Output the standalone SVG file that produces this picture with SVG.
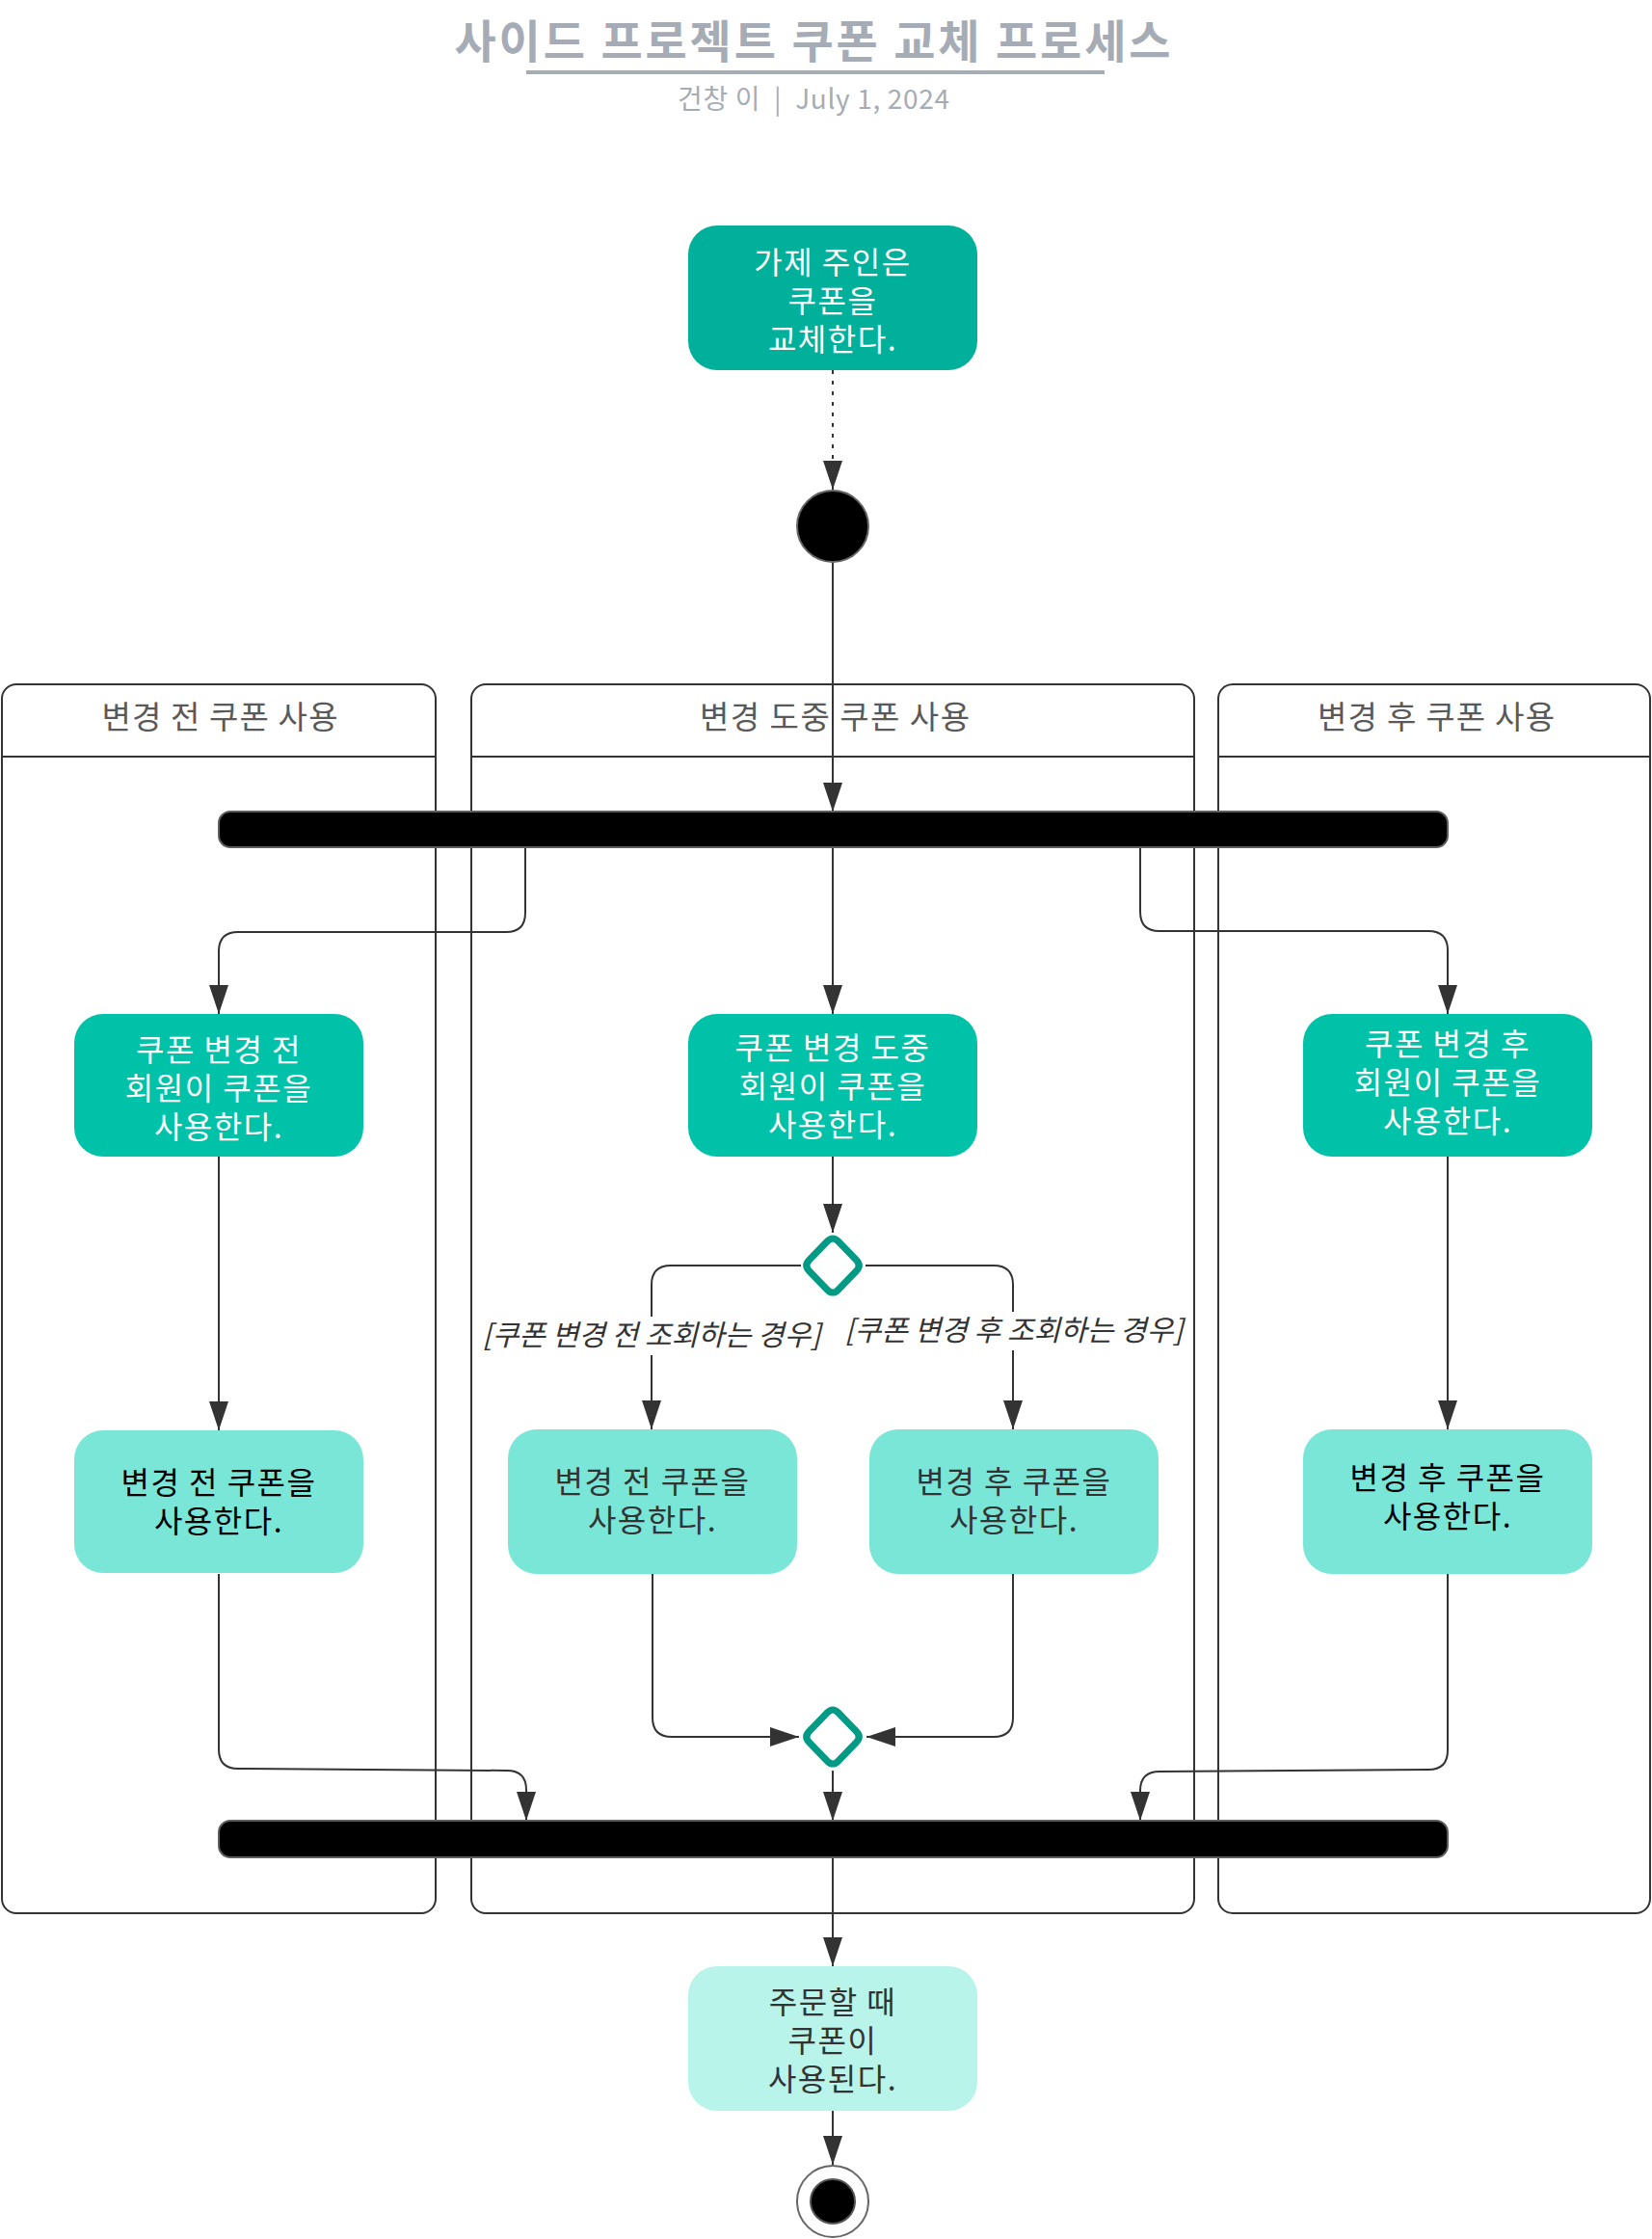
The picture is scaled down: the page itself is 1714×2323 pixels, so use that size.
<svg xmlns="http://www.w3.org/2000/svg" width="1714" height="2323" viewBox="0 0 1714 2323">
<style>
text{font-family:"Noto Sans CJK KR","Noto Sans",sans-serif;text-anchor:middle}
.title{font-size:47px;font-weight:bold;fill:#a6acb5}
.sub{font-size:28px;fill:#a6acb5;white-space:pre}
.lane{fill:#fff;stroke:#333;stroke-width:2}
.lt{font-size:33px;fill:#595959}
.n{font-size:32px;letter-spacing:1.5px}
.w{fill:#fff}
.k{fill:#000}
.g{fill:#333}
.lbl{font-size:30px;font-style:italic;fill:#333}
.c{fill:none;stroke:#333;stroke-width:2}
.bar{fill:#000;stroke:#5e5e5e;stroke-width:2}
.dia{fill:#fff;stroke:#009a85;stroke-width:7}
</style>
<defs>
<marker id="ah" markerUnits="userSpaceOnUse" markerWidth="30" markerHeight="20" refX="30" refY="10" orient="auto">
<path d="M0,0 L30,10 L0,20 z" fill="#333"/>
</marker>
</defs>
<rect width="1714" height="2323" fill="#fff"/>
<g id="title">
<text class="title" x="843" y="60" textLength="743">사이드 프로젝트 쿠폰 교체 프로세스</text>
<rect x="546" y="73" width="600" height="4" fill="#a6acb5"/>
<text class="sub" x="844" y="113" xml:space="preserve" textLength="282">건창 이  |  July 1, 2024</text>
</g>
<g id="lanes">
<g id="lane-before">
<rect class="lane" x="2" y="710" width="450" height="1275" rx="15"/>
<line x1="2" y1="785" x2="452" y2="785" stroke="#333" stroke-width="2"/>
<text class="lt" x="228" y="756" textLength="245">변경 전 쿠폰 사용</text>
</g>
<g id="lane-during">
<rect class="lane" x="489" y="710" width="750" height="1275" rx="15"/>
<line x1="489" y1="785" x2="1239" y2="785" stroke="#333" stroke-width="2"/>
<text class="lt" x="866" y="756" textLength="280">변경 도중 쿠폰 사용</text>
</g>
<g id="lane-after">
<rect class="lane" x="1264" y="710" width="448" height="1275" rx="15"/>
<line x1="1264" y1="785" x2="1712" y2="785" stroke="#333" stroke-width="2"/>
<text class="lt" x="1490" y="756" textLength="246">변경 후 쿠폰 사용</text>
</g>
</g>
<g id="connectors">
<path class="c" d="M864 384 V508" stroke-dasharray="4 7" marker-end="url(#ah)"/>
<path class="c" d="M864 583 V842" marker-end="url(#ah)"/>
<path class="c" d="M545 879 V947 Q545 967 525 967 H247 Q227 967 227 987 V1052" marker-end="url(#ah)"/>
<path class="c" d="M864 879 V1052" marker-end="url(#ah)"/>
<path class="c" d="M1183 879 V946 Q1183 966 1203 966 H1482 Q1502 966 1502 986 V1052" marker-end="url(#ah)"/>
<path class="c" d="M227 1200 V1484" marker-end="url(#ah)"/>
<path class="c" d="M864 1200 V1279" marker-end="url(#ah)"/>
<path class="c" d="M1502 1200 V1483" marker-end="url(#ah)"/>
<path class="c" d="M831 1313 H696 Q676 1313 676 1333 V1483" marker-end="url(#ah)"/>
<path class="c" d="M898 1313 H1031 Q1051 1313 1051 1333 V1483" marker-end="url(#ah)"/>
<path class="c" d="M227 1633 V1815 Q227 1835 247 1835 L526 1837 Q546 1837 546 1857 V1889" marker-end="url(#ah)"/>
<path class="c" d="M677 1633 V1782 Q677 1802 697 1802 H829" marker-end="url(#ah)"/>
<path class="c" d="M1051 1633 V1782 Q1051 1802 1031 1802 H899" marker-end="url(#ah)"/>
<path class="c" d="M1502 1633 V1816 Q1502 1836 1482 1836 L1203 1838 Q1183 1838 1183 1858 V1889" marker-end="url(#ah)"/>
<path class="c" d="M864 1837 V1889" marker-end="url(#ah)"/>
<path class="c" d="M864 1928 V2040" marker-end="url(#ah)"/>
<path class="c" d="M864 2190 V2246" marker-end="url(#ah)"/>
<g id="labels">
<rect x="500" y="1366" width="352" height="40" fill="#fff"/>
<text class="lbl" x="676" y="1396">[쿠폰 변경 전 조회하는 경우]</text>
<rect x="876" y="1361" width="352" height="40" fill="#fff"/>
<text class="lbl" x="1052" y="1391">[쿠폰 변경 후 조회하는 경우]</text>
</g>
</g>
<g id="owner-replaces">
<rect x="714" y="234" width="300" height="150" rx="30" fill="#00b09a"/>
<text class="n w" x="864" y="284">가제 주인은</text>
<text class="n w" x="864" y="324">쿠폰을</text>
<text class="n w" x="864" y="364">교체한다.</text>
</g>
<g id="start">
<circle cx="864" cy="546" r="37" fill="#000" stroke="#666" stroke-width="2"/>
</g>
<g id="fork">
<rect class="bar" x="227" y="842" width="1275" height="37" rx="12"/>
</g>
<g id="use-before">
<rect x="77" y="1052" width="300" height="148" rx="30" fill="#00c2a8"/>
<text class="n w" x="227" y="1101">쿠폰 변경 전</text>
<text class="n w" x="227" y="1141">회원이 쿠폰을</text>
<text class="n w" x="227" y="1181">사용한다.</text>
</g>
<g id="use-during">
<rect x="714" y="1052" width="300" height="148" rx="30" fill="#00c2a8"/>
<text class="n w" x="864" y="1099">쿠폰 변경 도중</text>
<text class="n w" x="864" y="1139">회원이 쿠폰을</text>
<text class="n w" x="864" y="1179">사용한다.</text>
</g>
<g id="use-after">
<rect x="1352" y="1052" width="300" height="148" rx="30" fill="#00c2a8"/>
<text class="n w" x="1502" y="1095">쿠폰 변경 후</text>
<text class="n w" x="1502" y="1135">회원이 쿠폰을</text>
<text class="n w" x="1502" y="1175">사용한다.</text>
</g>
<g id="decision">
<path class="dia" d="M869.6 1287.8 L888.4 1307.2 Q894 1313 888.4 1318.8 L869.6 1338.2 Q864 1344 858.4 1338.2 L839.6 1318.8 Q834 1313 839.6 1307.2 L858.4 1287.8 Q864 1282 869.6 1287.8 Z"/>
</g>
<g id="before-coupon-1">
<rect x="77" y="1484" width="300" height="148" rx="30" fill="#79e6d8"/>
<text class="n k" x="227" y="1550">변경 전 쿠폰을</text>
<text class="n k" x="227" y="1590">사용한다.</text>
</g>
<g id="before-coupon-2">
<rect x="527" y="1483" width="300" height="150" rx="30" fill="#79e6d8"/>
<text class="n g" x="677" y="1549">변경 전 쿠폰을</text>
<text class="n g" x="677" y="1589">사용한다.</text>
</g>
<g id="after-coupon-2">
<rect x="902" y="1483" width="300" height="150" rx="30" fill="#79e6d8"/>
<text class="n g" x="1052" y="1549">변경 후 쿠폰을</text>
<text class="n g" x="1052" y="1589">사용한다.</text>
</g>
<g id="after-coupon-1">
<rect x="1352" y="1483" width="300" height="150" rx="30" fill="#79e6d8"/>
<text class="n k" x="1502" y="1545">변경 후 쿠폰을</text>
<text class="n k" x="1502" y="1585">사용한다.</text>
</g>
<g id="merge">
<path class="dia" d="M869.6 1776.8 L888.4 1796.2 Q894 1802 888.4 1807.8 L869.6 1827.2 Q864 1833 858.4 1827.2 L839.6 1807.8 Q834 1802 839.6 1796.2 L858.4 1776.8 Q864 1771 869.6 1776.8 Z"/>
</g>
<g id="join">
<rect class="bar" x="227" y="1889" width="1275" height="38" rx="12"/>
</g>
<g id="coupon-used">
<rect x="714" y="2040" width="300" height="150" rx="30" fill="#b8f4ea"/>
<text class="n g" x="864" y="2089">주문할 때</text>
<text class="n g" x="864" y="2129">쿠폰이</text>
<text class="n g" x="864" y="2169">사용된다.</text>
</g>
<g id="end">
<circle cx="864" cy="2284" r="37" fill="#fff" stroke="#666" stroke-width="2"/>
<circle cx="864" cy="2284" r="23" fill="#000" stroke="#555" stroke-width="2"/>
</g>
</svg>
